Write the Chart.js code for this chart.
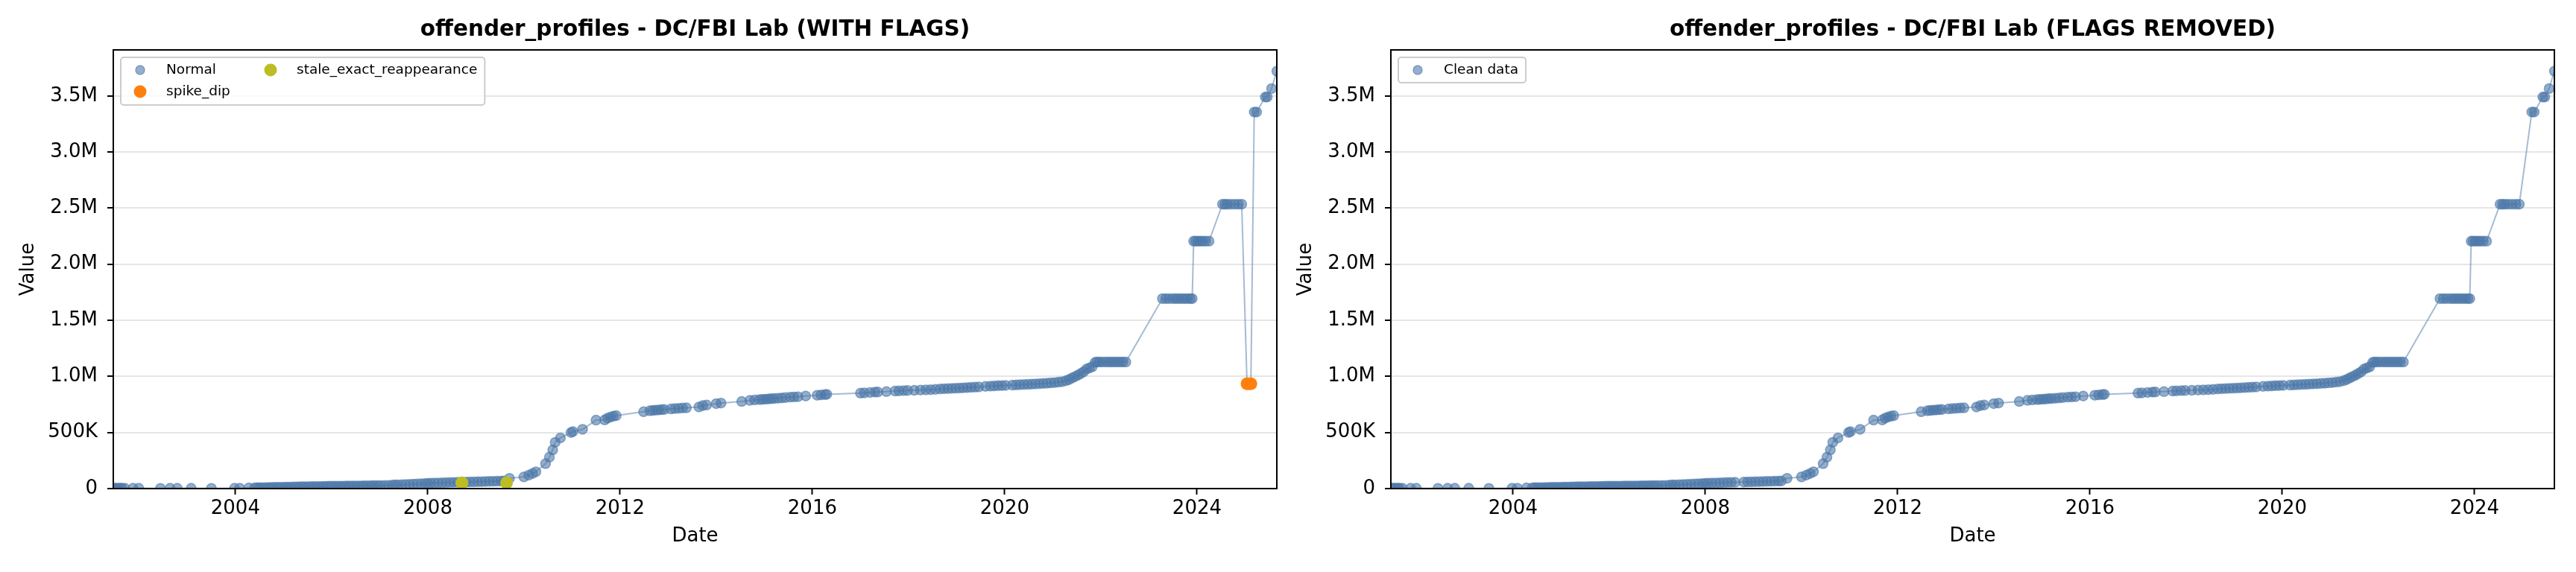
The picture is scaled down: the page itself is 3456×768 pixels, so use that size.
<!DOCTYPE html>
<html>
<head>
<meta charset="utf-8">
<title>offender_profiles - DC/FBI Lab</title>
<script src="https://cdn.jsdelivr.net/npm/chart.js@4.4.1/dist/chart.umd.min.js"></script>
<style>
  html, body { margin: 0; padding: 0; background: #fff; }
  #wrap { display: flex; width: 3456px; height: 768px; }
  canvas { display: block; }
</style>
</head>
<body>
<div id="wrap">
  <canvas id="flagsChart" width="1728" height="768"></canvas>
  <canvas id="cleanChart" width="1728" height="768"></canvas>
</div>
<script>
// dates as decimal years, values in thousands
const dates = [
  2001.46, 2001.50, 2001.55, 2001.60, 2001.64, 2001.70, 2001.87, 2001.99, 2002.44, 2002.64, 2002.79, 2003.08, 2003.50, 2003.98, 2004.09, 2004.28,
  2004.40, 2004.45, 2004.50, 2004.56, 2004.62, 2004.68, 2004.74, 2004.80, 2004.86, 2004.92, 2004.98,
  2005.04, 2005.10, 2005.16, 2005.22, 2005.28, 2005.34, 2005.40, 2005.46, 2005.52, 2005.58, 2005.64, 2005.70, 2005.76, 2005.82, 2005.88, 2005.94,
  2006.00, 2006.06, 2006.12, 2006.18, 2006.24, 2006.30, 2006.36, 2006.42, 2006.48, 2006.54, 2006.60, 2006.66, 2006.72, 2006.78, 2006.84, 2006.90, 2006.96,
  2007.02, 2007.10, 2007.18, 2007.26, 2007.32, 2007.38, 2007.46, 2007.54, 2007.62, 2007.70, 2007.78, 2007.86, 2007.94,
  2008.00, 2008.06, 2008.14, 2008.22, 2008.30, 2008.38, 2008.46, 2008.54, 2008.62,
  2008.80, 2008.88, 2008.96, 2009.04, 2009.12, 2009.20, 2009.28, 2009.36, 2009.44, 2009.52, 2009.58, 2009.70,
  2010.00, 2010.10, 2010.18, 2010.25, 2010.45, 2010.53, 2010.60, 2010.65, 2010.76, 2010.98, 2011.02, 2011.22, 2011.50, 2011.68, 2011.74, 2011.80, 2011.86, 2011.92,
  2012.49, 2012.62, 2012.68, 2012.74, 2012.80, 2012.86, 2012.92, 2013.06, 2013.14, 2013.22, 2013.30, 2013.38, 2013.64, 2013.72,
  2013.80, 2014.00, 2014.10, 2014.53, 2014.70, 2014.80, 2014.90, 2014.96, 2015.02, 2015.08, 2015.14, 2015.20, 2015.28,
  2015.36, 2015.44, 2015.54, 2015.62, 2015.70, 2015.86, 2016.10, 2016.18, 2016.26, 2016.30, 2017.00, 2017.08,
  2017.20, 2017.30, 2017.36, 2017.54, 2017.72, 2017.80, 2017.90, 2017.98, 2018.12, 2018.25, 2018.36, 2018.46, 2018.56,
  2018.66, 2018.74, 2018.82, 2018.90, 2018.98, 2019.06, 2019.14, 2019.22, 2019.30, 2019.38, 2019.46, 2019.60, 2019.70, 2019.78,
  2019.86, 2019.94, 2020.02, 2020.16, 2020.24, 2020.32, 2020.40, 2020.48, 2020.56, 2020.64, 2020.72, 2020.80, 2020.88,
  2020.96, 2021.04, 2021.12, 2021.20, 2021.28, 2021.34, 2021.40, 2021.46, 2021.52, 2021.58, 2021.64, 2021.70, 2021.76, 2021.82,
  2021.88, 2021.92, 2021.97, 2022.03, 2022.10, 2022.16, 2022.22, 2022.28, 2022.34, 2022.40, 2022.46, 2022.52,
  2023.28, 2023.35, 2023.42, 2023.50, 2023.56, 2023.62, 2023.68, 2023.74, 2023.80, 2023.86, 2023.90,
  2023.93, 2023.97, 2024.02, 2024.07, 2024.12, 2024.18, 2024.25,
  2024.53, 2024.58, 2024.63, 2024.70, 2024.78, 2024.86, 2024.93,
  2025.19, 2025.24, 2025.42, 2025.46, 2025.55, 2025.66
];
const values = [
  4, 5, 3, 5, 4, 3, 3, 3, 2, 3, 3, 3, 2, 3, 4, 6,
  7, 8, 8, 9, 9, 10, 10, 11, 11, 12, 12,
  13, 13, 14, 15, 15, 16, 16, 17, 17, 18, 18, 19, 19, 20, 20, 21,
  21, 21, 22, 22, 22, 23, 23, 23, 24, 24, 24, 25, 25, 25, 26, 26, 27,
  27, 28, 29, 31, 33, 34, 35, 36, 38, 40, 42, 43, 45,
  47, 48, 49, 50, 51, 53, 54, 55, 56,
  58, 59, 60, 61, 62, 63, 64, 65, 66, 67, 68, 92,
  104, 120, 135, 150, 222, 280, 345, 412, 452, 500, 508, 528, 610, 612, 628, 638, 645, 650,
  685, 693, 697, 699, 701, 703, 705, 710, 713, 716, 718, 720, 727, 740,
  745, 757, 762, 776, 786, 790, 793, 795, 797, 799, 801, 803, 805,
  808, 811, 815, 817, 819, 825, 832, 835, 838, 840, 851, 853,
  857, 860, 861, 864, 869, 871, 873, 874, 876, 878, 880, 882, 884,
  888, 890, 892, 893, 895, 896, 898, 900, 902, 904, 906, 911, 913, 915,
  917, 918, 920, 922, 924, 926, 928, 929, 931, 933, 935, 937, 939,
  942, 945, 949, 953, 962, 972, 985, 998, 1010, 1025, 1040, 1065, 1075, 1085,
  1125, 1128, 1128, 1128, 1128, 1128, 1128, 1128, 1128, 1128, 1128, 1128,
  1693, 1693, 1693, 1693, 1693, 1693, 1693, 1693, 1693, 1693, 1693,
  2205, 2205, 2205, 2205, 2205, 2205, 2205,
  2535, 2535, 2535, 2535, 2535, 2535, 2535,
  3356, 3356, 3490, 3490, 3565, 3720
];

// flagged points (only in the left chart)
const spikeDates = [2025.04, 2025.08, 2025.12];
const spikeValues = [935, 935, 935];
const staleDates = [2008.71, 2009.64];
const staleValues = [52, 52];

const xTickYears = [2004, 2008, 2012, 2016, 2020, 2024];
const yTickValues = [0, 500000, 1000000, 1500000, 2000000, 2500000, 3000000, 3500000];
const yTickLabels = ['0', '500K', '1.0M', '1.5M', '2.0M', '2.5M', '3.0M', '3.5M'];

const BLUE_PT = 'rgba(76, 120, 168, 0.6)';
const BLUE_LINE = 'rgba(76, 120, 168, 0.5)';
const ORANGE = '#ff7f0e';
const OLIVE = '#bcbd22';

Chart.defaults.font.family = 'DejaVu Sans';
Chart.defaults.color = '#000';

const toPoints = (xs, ys) => xs.map((x, i) => ({ x: x, y: ys[i] * 1000 }));
const normalPts = toPoints(dates, values);
const spikePts = toPoints(spikeDates, spikeValues);
const stalePts = toPoints(staleDates, staleValues);
const allPts = normalPts.concat(spikePts, stalePts).sort((a, b) => a.x - b.x);

// title centred on the axes, frame (top/right spines) and a matplotlib-like legend inside the axes
function frameLegend(titleText, items, colX) {
    return {
        id: 'frameLegend',
        afterDraw(chart) {
            const ctx = chart.ctx;
            const ca = chart.chartArea;
            ctx.save();

            ctx.fillStyle = '#000';
            ctx.font = 'bold 29.5px "DejaVu Sans"';
            ctx.textAlign = 'center';
            ctx.textBaseline = 'middle';
            ctx.fillText(titleText, (ca.left + ca.right) / 2, 40);

            ctx.strokeStyle = '#000';
            ctx.lineWidth = 2;
            ctx.strokeRect(ca.left, ca.top, ca.right - ca.left, ca.bottom - ca.top);

            ctx.font = '18.5px "DejaVu Sans"';
            const rows = Math.max(...items.map(it => it.row)) + 1;
            let right = 0;
            items.forEach(it => {
                const tx = ca.left + colX[it.col] + 35;
                right = Math.max(right, tx + ctx.measureText(it.label).width);
            });
            const bx = ca.left + 10, by = ca.top + 10;
            const bw = right + 10 - bx, bh = rows === 1 ? 34 : 64, r = 4;
            ctx.beginPath();
            ctx.moveTo(bx + r, by);
            ctx.arcTo(bx + bw, by, bx + bw, by + bh, r);
            ctx.arcTo(bx + bw, by + bh, bx, by + bh, r);
            ctx.arcTo(bx, by + bh, bx, by, r);
            ctx.arcTo(bx, by, bx + bw, by, r);
            ctx.closePath();
            ctx.fillStyle = 'rgba(255, 255, 255, 0.8)';
            ctx.fill();
            ctx.strokeStyle = '#cccccc';
            ctx.lineWidth = 2;
            ctx.stroke();

            items.forEach(it => {
                const mx = ca.left + colX[it.col];
                const my = ca.top + 27 + it.row * 29;
                ctx.beginPath();
                ctx.arc(mx, my, it.radius, 0, Math.PI * 2);
                ctx.fillStyle = it.color;
                ctx.fill();
                if (it.edge) {
                    ctx.strokeStyle = it.color;
                    ctx.lineWidth = 1.5;
                    ctx.stroke();
                }
                ctx.fillStyle = '#000';
                ctx.textAlign = 'left';
                ctx.textBaseline = 'middle';
                ctx.fillText(it.label, mx + 35, my);
            });
            ctx.restore();
        }
    };
}

function buildChart(canvasId, titleText, datasets, pad, legendItems, legendCols) {
    return new Chart(document.getElementById(canvasId), {
        type: 'scatter',
        data: { datasets: datasets },
        options: {
            responsive: false,
            animation: false,
            devicePixelRatio: 1,
            layout: { padding: pad },
            plugins: {
                legend: { display: false },
                tooltip: { enabled: false },
                title: { display: false }
            },
            scales: {
                x: {
                    type: 'linear',
                    min: dates[0],
                    max: dates[dates.length - 1],
                    afterBuildTicks: s => { s.ticks = xTickYears.map(v => ({ value: v })); },
                    afterFit: s => { s.height = 96; },
                    ticks: {
                        callback: v => String(v),
                        autoSkip: false,
                        maxRotation: 0,
                        padding: 4,
                        color: '#000',
                        font: { size: 26 }
                    },
                    grid: { drawOnChartArea: false, tickLength: 8, tickWidth: 2, tickColor: '#000' },
                    border: { color: '#000', width: 2 },
                    title: { display: true, text: 'Date', color: '#000', font: { size: 26 }, padding: { top: 0, bottom: 16 } }
                },
                y: {
                    min: 0,
                    max: 3910000,
                    afterBuildTicks: s => { s.ticks = yTickValues.map(v => ({ value: v })); },
                    afterFit: s => { s.width = 130; },
                    ticks: {
                        callback: (v, i) => yTickLabels[i],
                        padding: 13,
                        color: '#000',
                        font: { size: 26 }
                    },
                    grid: { color: '#e6e6e6', lineWidth: 2, tickColor: '#000', tickLength: 8, tickWidth: 2 },
                    border: { color: '#000', width: 2 },
                    title: { display: true, text: 'Value', color: '#000', font: { size: 26 }, padding: { top: 1, bottom: 0 } }
                }
            }
        },
        plugins: [frameLegend(titleText, legendItems, legendCols)]
    });
}

// ✅ Left: with flags
buildChart('flagsChart', 'offender_profiles - DC/FBI Lab (WITH FLAGS)', [
    { data: allPts, showLine: true, borderColor: BLUE_LINE, borderWidth: 2, pointRadius: 0, order: 4, clip: 0 },
    { label: 'Normal', data: normalPts, pointRadius: 6.5, backgroundColor: BLUE_PT, borderColor: BLUE_PT, borderWidth: 1.5, order: 3, clip: 0 },
    { label: 'spike_dip', data: spikePts, pointRadius: 8.5, backgroundColor: ORANGE, borderColor: ORANGE, borderWidth: 0, order: 2, clip: 0 },
    { label: 'stale_exact_reappearance', data: stalePts, pointRadius: 8.5, backgroundColor: OLIVE, borderColor: OLIVE, borderWidth: 0, order: 1, clip: 0 }
], { left: 22, right: 15, top: 67, bottom: 16 }, [
    { label: 'Normal', color: BLUE_PT, radius: 6, edge: true, col: 0, row: 0 },
    { label: 'spike_dip', color: ORANGE, radius: 8.5, col: 0, row: 1 },
    { label: 'stale_exact_reappearance', color: OLIVE, radius: 8.5, col: 1, row: 0 }
], [36, 211]);

// ✅ Right: flags removed
buildChart('cleanChart', 'offender_profiles - DC/FBI Lab (FLAGS REMOVED)', [
    { data: normalPts, showLine: true, borderColor: BLUE_LINE, borderWidth: 2, pointRadius: 0, order: 2, clip: 0 },
    { label: 'Clean data', data: normalPts, pointRadius: 6.5, backgroundColor: BLUE_PT, borderColor: BLUE_PT, borderWidth: 1.5, order: 1, clip: 0 }
], { left: 8, right: 29, top: 67, bottom: 16 }, [
    { label: 'Clean data', color: BLUE_PT, radius: 6, edge: true, col: 0, row: 0 }
], [36]);
</script>
</body>
</html>
